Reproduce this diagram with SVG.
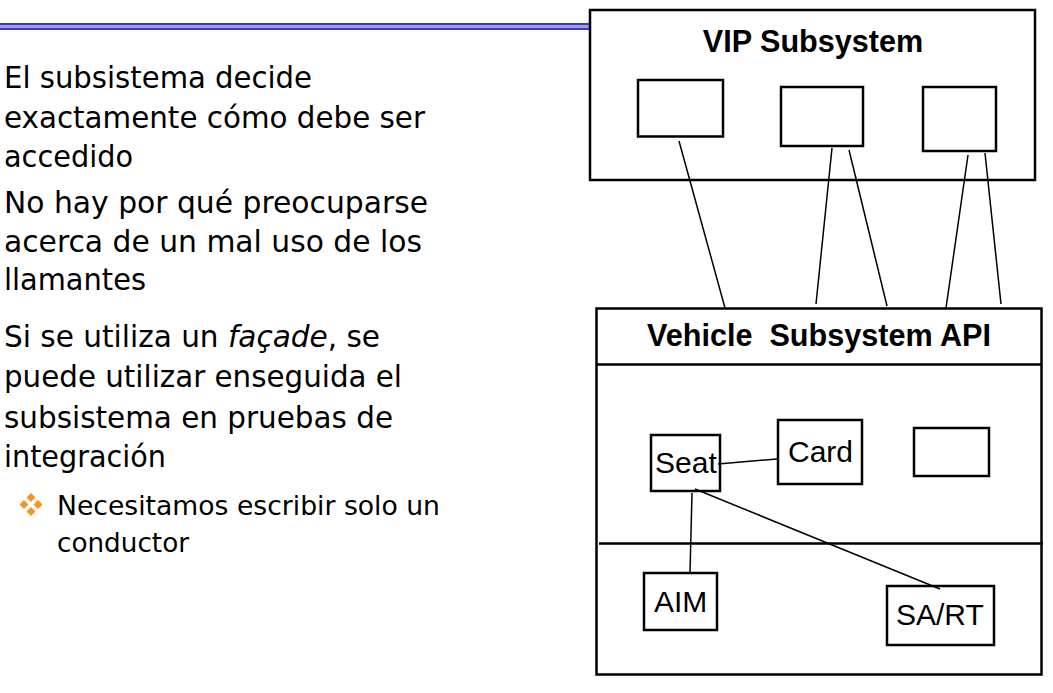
<svg xmlns="http://www.w3.org/2000/svg" width="1053" height="693" viewBox="0 0 1053 693">
<style>
.txt{font-family:"DejaVu Sans","Liberation Sans",sans-serif;font-size:29.8px;fill:#000}
.sub{font-family:"DejaVu Sans","Liberation Sans",sans-serif;font-size:26.7px;fill:#000}
.box{fill:#fff;stroke:#000;stroke-width:2.5}
.big{fill:#fff;stroke:#000;stroke-width:2.5}
.lbl{font-family:"Liberation Sans",Arial,sans-serif;font-size:30px;fill:#000}
.ttl{font-family:"Liberation Sans",Arial,sans-serif;font-size:30.6px;font-weight:bold;fill:#000;text-anchor:middle}
.conn line{stroke:#000;stroke-width:1.5}
</style>
<defs>
<path id="dia" d="M0,-4.5 L4.5,0 L0,4.5 L-4.5,0 Z" fill="#f7941d"/>
</defs>
<rect width="1053" height="693" fill="#fff"/>
<g id="header-rule">
<rect x="0" y="23" width="589" height="7" fill="#3a3acc"/>
<rect x="0" y="25" width="589" height="3" fill="#a0a0e0"/>
</g>
<g id="bullets">
<text class="txt" x="4" y="88" textLength="308" lengthAdjust="spacingAndGlyphs">El subsistema decide</text>
<text class="txt" x="4" y="128" textLength="421" lengthAdjust="spacingAndGlyphs">exactamente cómo debe ser</text>
<text class="txt" x="4" y="167" textLength="129" lengthAdjust="spacingAndGlyphs">accedido</text>
<text class="txt" x="4" y="213" textLength="424" lengthAdjust="spacingAndGlyphs">No hay por qué preocuparse</text>
<text class="txt" x="4" y="252" textLength="418" lengthAdjust="spacingAndGlyphs">acerca de un mal uso de los</text>
<text class="txt" x="4" y="290" textLength="142" lengthAdjust="spacingAndGlyphs">llamantes</text>
<text class="txt" x="4" y="347" textLength="376" lengthAdjust="spacingAndGlyphs">Si se utiliza un <tspan font-style="italic">façade</tspan>, se</text>
<text class="txt" x="4" y="387" textLength="398" lengthAdjust="spacingAndGlyphs">puede utilizar enseguida el</text>
<text class="txt" x="4" y="428" textLength="389" lengthAdjust="spacingAndGlyphs">subsistema en pruebas de</text>
<text class="txt" x="4" y="467" textLength="162" lengthAdjust="spacingAndGlyphs">integración</text>
<g id="sub-bullet">
<use href="#dia" x="31" y="497.5"/>
<use href="#dia" x="24" y="504.5"/>
<use href="#dia" x="38" y="504.5"/>
<use href="#dia" x="31" y="511.5"/>
</g>
<text class="sub" x="57" y="515" textLength="383" lengthAdjust="spacingAndGlyphs">Necesitamos escribir solo un</text>
<text class="sub" x="57" y="552" textLength="132" lengthAdjust="spacingAndGlyphs">conductor</text>
</g>
<g id="vip-subsystem">
<rect class="big" x="590" y="10" width="445" height="170"/>
<text class="ttl" x="813" y="52">VIP Subsystem</text>
</g>
<g id="vip-box1"><rect class="box" x="638" y="80" width="85" height="56.5"/></g>
<g id="vip-box2"><rect class="box" x="781" y="87" width="82" height="59"/></g>
<g id="vip-box3"><rect class="box" x="923" y="87" width="73" height="64"/></g>
<g id="vehicle-subsystem">
<rect class="big" x="596.5" y="308.5" width="445" height="366"/>
<line x1="596.5" y1="364.5" x2="1041.5" y2="364.5" stroke="#000" stroke-width="2.5"/>
<line x1="599" y1="543.5" x2="1043" y2="543.5" stroke="#000" stroke-width="2.5"/>
<text class="ttl" x="819" y="346" xml:space="preserve">Vehicle  Subsystem API</text>
</g>
<g id="seat"><rect class="box" x="651" y="435" width="69" height="56"/><text class="lbl" x="655" y="473">Seat</text></g>
<g id="card"><rect class="box" x="778" y="420" width="84" height="64"/><text class="lbl" x="788" y="462">Card</text></g>
<g id="vehicle-box3"><rect class="box" x="914" y="428" width="75" height="48"/></g>
<g id="aim"><rect class="box" x="644" y="573" width="73" height="57"/><text class="lbl" x="654" y="612">AIM</text></g>
<g id="sart"><rect class="box" x="887" y="586" width="107" height="59"/><text class="lbl" x="896" y="625">SA/RT</text></g>
<g id="connectors" class="conn">
<line x1="679" y1="141" x2="725" y2="308"/>
<line x1="832" y1="148" x2="816" y2="304"/>
<line x1="849" y1="150" x2="887" y2="306"/>
<line x1="968" y1="155" x2="946" y2="308"/>
<line x1="985" y1="153" x2="1001" y2="304"/>
<line x1="718" y1="464" x2="777" y2="459"/>
<line x1="692" y1="493" x2="690" y2="573"/>
<line x1="695" y1="489" x2="940" y2="589"/>
</g>
</svg>
